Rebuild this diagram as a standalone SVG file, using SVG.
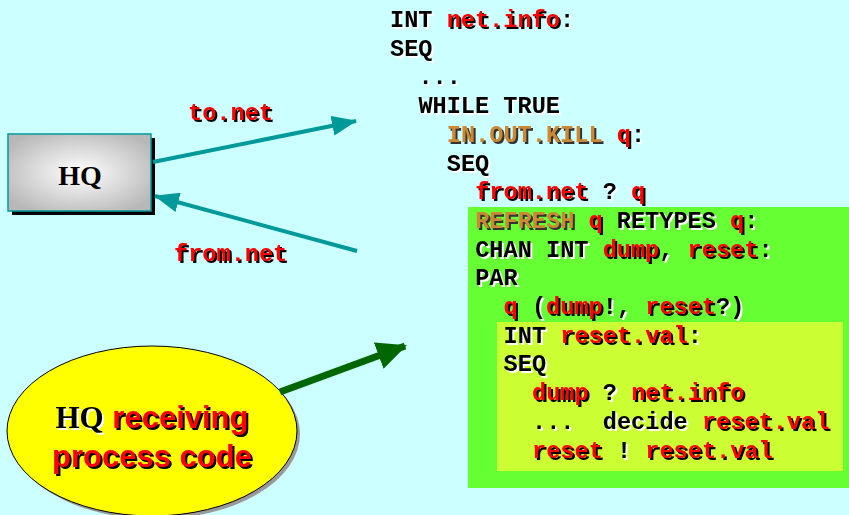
<svg xmlns="http://www.w3.org/2000/svg" width="849" height="515" viewBox="0 0 849 515">
  <defs>
    <style>
      .code { font-family: "Liberation Mono", "Courier New", monospace; font-weight: bold; font-size: 23.6px; white-space: pre; filter: url(#shade); }
      .r { fill: #FF0000; }
      .k { fill: #000000; }
      .b { fill: #CC8833; }
      .teal { stroke: #009999; stroke-width: 4; fill: none; }
    </style>
    <!-- shadow whose colour is the inverse of the glyph colour: dark under red, light under black -->
    <filter id="shade" x="-5%" y="-20%" width="110%" height="150%" color-interpolation-filters="sRGB">
      <feColorMatrix in="SourceGraphic" type="matrix" values="-1 0 0 0 1  -1 0 0 0 1  -1 0 0 0 1  0 0 0 1 0" result="inv"/>
      <feOffset in="inv" dx="1.5" dy="1.5" result="off"/>
      <feMerge><feMergeNode in="off"/><feMergeNode in="SourceGraphic"/></feMerge>
    </filter>
    <radialGradient id="hqFill" cx="50%" cy="50%" r="60%">
      <stop offset="0" stop-color="#FFFFFF"/>
      <stop offset="1" stop-color="#B8B8B8"/>
    </radialGradient>
    <marker id="tealHead" markerUnits="userSpaceOnUse" markerWidth="26" markerHeight="20" refX="24" refY="10" orient="auto">
      <path d="M0,0 L25,10 L0,20 Z" fill="#009999"/>
    </marker>
    <marker id="greenHead" markerUnits="userSpaceOnUse" markerWidth="30" markerHeight="28" refX="28" refY="14" orient="auto">
      <path d="M0,0 L30,14 L0,28 Z" fill="#006600"/>
    </marker>
  </defs>

  <rect width="849" height="515" fill="#CCFFFF"/>

  <!-- code panels -->
  <rect x="468" y="207" width="381" height="281" fill="#66FF33"/>
  <rect x="497" y="322" width="346" height="149" fill="#CCFF33"/>

  <!-- HQ node -->
  <g id="hq">
    <rect x="12" y="138" width="143" height="77" fill="#000000"/>
    <rect x="8" y="134" width="143" height="77" fill="url(#hqFill)" stroke="#009999" stroke-width="1.5"/>
    <text x="80" y="185" text-anchor="middle" font-family="Liberation Serif, Times New Roman, serif" font-weight="bold" font-size="28" fill="#000000">HQ</text>
  </g>

  <!-- receiving process callout -->
  <g id="receiver">
    <ellipse cx="155" cy="434" rx="145" ry="85" fill="#999999"/>
    <ellipse cx="152" cy="431" rx="145" ry="85" fill="#FFFF00" stroke="#000000" stroke-width="1"/>
    <text x="152" y="428" text-anchor="middle" font-weight="bold" font-size="31" filter="url(#shade)"><tspan font-family="Liberation Serif, Times New Roman, serif" fill="#000000">HQ</tspan><tspan font-family="Liberation Sans, Arial, sans-serif" fill="#FF0000"> receiving</tspan></text>
    <text x="152" y="467" text-anchor="middle" font-family="Liberation Sans, Arial, sans-serif" font-weight="bold" font-size="31" fill="#FF0000" filter="url(#shade)">process code</text>
  </g>

  <!-- connectors -->
  <g id="connectors">
    <line class="teal" x1="153" y1="162" x2="356" y2="121" marker-end="url(#tealHead)"/>
    <line class="teal" x1="357" y1="251" x2="155" y2="196" marker-end="url(#tealHead)"/>
    <line x1="280" y1="392" x2="405" y2="346" stroke="#006600" stroke-width="7" marker-end="url(#greenHead)"/>
    <text class="code r" x="188" y="120">to.net</text>
    <text class="code r" x="174" y="261">from.net</text>
  </g>

  <!-- occam listing -->
  <g id="listing">
    <text class="code" x="390" y="27"><tspan class="k">INT </tspan><tspan class="r">net.info</tspan><tspan class="k">:</tspan></text>
    <text class="code k" x="390" y="55.7">SEQ</text>
    <text class="code k" x="418.4" y="84.4">...</text>
    <text class="code k" x="418.4" y="113.1">WHILE TRUE</text>
    <text class="code" x="446.8" y="141.8"><tspan class="b">IN.OUT.KILL </tspan><tspan class="r">q</tspan><tspan class="k">:</tspan></text>
    <text class="code k" x="446.8" y="170.5">SEQ</text>
    <text class="code" x="475.2" y="199.2"><tspan class="r">from.net</tspan><tspan class="k"> ? </tspan><tspan class="r">q</tspan></text>
    <text class="code" x="475.2" y="227.9"><tspan class="b">REFRESH </tspan><tspan class="r">q</tspan><tspan class="k"> RETYPES </tspan><tspan class="r">q</tspan><tspan class="k">:</tspan></text>
    <text class="code" x="475.2" y="256.6"><tspan class="k">CHAN INT </tspan><tspan class="r">dump</tspan><tspan class="k">, </tspan><tspan class="r">reset</tspan><tspan class="k">:</tspan></text>
    <text class="code k" x="475.2" y="285.3">PAR</text>
    <text class="code" x="503.6" y="314"><tspan class="r">q</tspan><tspan class="k"> (</tspan><tspan class="r">dump</tspan><tspan class="k">!, </tspan><tspan class="r">reset</tspan><tspan class="k">?)</tspan></text>
    <text class="code" x="503.6" y="342.7"><tspan class="k">INT </tspan><tspan class="r">reset.val</tspan><tspan class="k">:</tspan></text>
    <text class="code k" x="503.6" y="371.4">SEQ</text>
    <text class="code" x="532" y="400.1"><tspan class="r">dump</tspan><tspan class="k"> ? </tspan><tspan class="r">net.info</tspan></text>
    <text class="code" x="532" y="428.8"><tspan class="k">...  decide </tspan><tspan class="r">reset.val</tspan></text>
    <text class="code" x="532" y="457.5"><tspan class="r">reset</tspan><tspan class="k"> ! </tspan><tspan class="r">reset.val</tspan></text>
  </g>
</svg>
